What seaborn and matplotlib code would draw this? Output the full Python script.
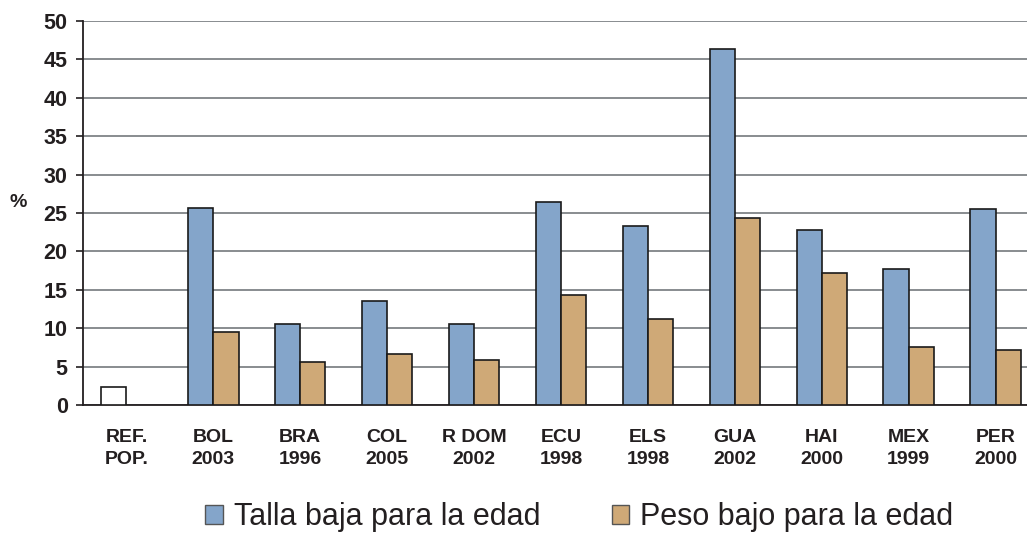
import numpy as np
import pandas as pd
import matplotlib
matplotlib.use("Agg")
import matplotlib.pyplot as plt
from matplotlib.patches import Patch
import seaborn as sns

# ---- data ----
categories = ["REF.\nPOP.", "BOL\n2003", "BRA\n1996", "COL\n2005", "R DOM\n2002",
              "ECU\n1998", "ELS\n1998", "GUA\n2002", "HAI\n2000", "MEX\n1999", "PER\n2000"]
talla = [2.3, 25.6, 10.5, 13.6, 10.6, 26.4, 23.3, 46.4, 22.8, 17.7, 25.5]
peso = [np.nan, 9.5, 5.6, 6.7, 5.9, 14.3, 11.2, 24.3, 17.2, 7.5, 7.2]
series_names = ["Talla baja para la edad", "Peso bajo para la edad"]
yticks = [0, 5, 10, 15, 20, 25, 30, 35, 40, 45, 50]

colors = ["#84A5CA", "#CFA977"]

df = pd.DataFrame({
    "cat": categories * 2,
    "val": talla + peso,
    "serie": [series_names[0]] * len(categories) + [series_names[1]] * len(categories),
})

sns.set_style("white")
plt.rcParams["font.family"] = ["Liberation Sans", "DejaVu Sans"]

W, H = 1027, 534
fig = plt.figure(figsize=(W / 100, H / 100), dpi=100)
ax_left, ax_right = 83, 1039
ax_top, ax_bot = 21, 405
ax = fig.add_axes([ax_left / W, (H - ax_bot) / H, (ax_right - ax_left) / W, (ax_bot - ax_top) / H])

sns.barplot(data=df, x="cat", y="val", hue="serie", order=categories,
            hue_order=series_names, palette=colors, saturation=1, width=0.58,
            edgecolor="#1a1a1a", linewidth=1.2, ax=ax, legend=False, zorder=3)

# Reference-population bar is drawn white
first = ax.patches[0]
first.set_facecolor("white")

ax.set_xlim(-0.5, len(categories) - 0.5)
ax.set_ylim(0, 50)
ax.set_yticks(yticks)
ax.set_yticklabels([str(t) for t in yticks], fontsize=15.5, fontweight="bold", color="#231f20")
ax.set_xticks(range(len(categories)))
ax.set_xticklabels(categories, fontsize=14, fontweight="bold", color="#231f20", linespacing=1.4)
ax.set_xticks(np.arange(-0.5, len(categories), 1.0), minor=True)
ax.tick_params(axis="x", which="major", length=0, pad=17)
ax.tick_params(axis="x", which="minor", length=5, width=1.2, color="#231f20", direction="out")
ax.tick_params(axis="y", length=5, width=1.2, color="#231f20", direction="out", pad=6, left=True)

ax.set_xlabel("")
ax.set_ylabel("")
ax.grid(axis="y", color="#7f8487", linewidth=1.3, zorder=0)
ax.grid(axis="x", visible=False)
ax.set_axisbelow(True)
for s in ["top", "right"]:
    ax.spines[s].set_visible(False)
for s in ["left", "bottom"]:
    ax.spines[s].set_color("#231f20")
    ax.spines[s].set_linewidth(1.3)

fig.text(18 / W, 1 - 203 / H, "%", fontsize=14, fontweight="bold", color="#231f20",
         ha="center", va="center")

handles = [Patch(facecolor=colors[0], edgecolor="#555555", linewidth=1.0),
           Patch(facecolor=colors[1], edgecolor="#555555", linewidth=1.0)]
fig.legend(handles, series_names, loc="center", bbox_to_anchor=(0.564, 1 - 517 / H),
           ncol=2, frameon=False, fontsize=22, handlelength=0.56, handleheight=0.56,
           handletextpad=0.36, columnspacing=2.35, labelcolor="#231f20",
           borderpad=0, borderaxespad=0)

fig.savefig("out.png", dpi=100)
